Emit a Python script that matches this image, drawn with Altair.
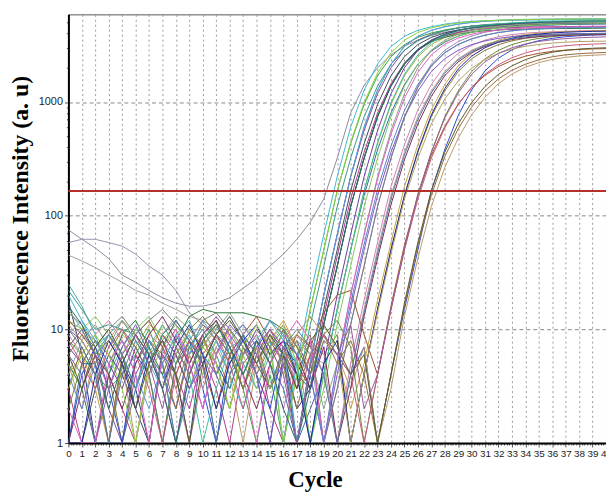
import altair as alt
import pandas as pd

cycles = list(range(41))

curve_01 = [75,62,52,42,30,26,22,19,17,16,16,17,19,23,28,36,46,62,88,140,320,800,1400,2000,2600,3100,3500,3850,4100,4300,4450,4550,4650,4720,4780,4820,4850,4880,4900,4920,4940]
curve_02 = [58,62,62,58,54,46,36,30,22,14,11,9,7,8,5,9,7,3,6,1,3,11,36,120,320,740,1380,2150,2850,3400,3800,4100,4320,4480,4600,4690,4760,4810,4850,4880,4900]
curve_03 = [45,40,35,30,26,22,20,17,15,13,12,10,9,11,8,6,7,9,6,5,1,4,15,50,150,360,740,1250,1850,2400,2850,3200,3450,3630,3760,3850,3910,3950,3980,4000,4020]
curve_04 = [25,16,9,4,7,10,8,5,9,12,6,4,8,5,3,6,9,1,5,20,68,220,600,1270,2150,3080,3780,4270,4590,4840,5010,5140,5230,5290,5330,5350,5370,5380,5390,5400,5400]
curve_05 = [18,6,1,1,5,3,1,6,4,1,8,5,3,7,4,1,6,2,3,11,36,120,320,740,1380,2150,2850,3400,3800,4100,4320,4480,4600,4690,4760,4810,4850,4880,4900,4920,4930]
curve_06 = [10,8,5,2,1,4,7,3,1,5,9,4,2,6,8,3,5,1,5,20,68,220,560,1180,2000,2850,3500,3950,4250,4480,4640,4760,4840,4900,4940,4960,4980,4990,5000,5000,5010]
curve_07 = [1,5,5,1,1,3,6,4,2,7,5,1,4,6,9,5,3,1,2,4,15,50,150,380,800,1420,2150,2800,3350,3800,4100,4330,4500,4600,4680,4730,4770,4800,4820,4840,4850]
curve_08 = [8,6,4,3,4,6,10,5,1,4,8,12,6,3,1,4,1,4,15,50,165,430,950,1700,2500,3200,3700,4050,4300,4500,4650,4750,4820,4870,4900,4930,4950,4970,4980,4990,5000]
curve_09 = [12,10,8,5,9,7,11,9,6,3,7,5,2,6,10,7,4,8,1,4,15,50,165,430,950,1700,2500,3200,3700,4050,4300,4500,4650,4750,4820,4870,4900,4930,4950,4970,4980]
curve_10 = [3,1,1,4,2,1,5,8,4,2,6,3,1,5,7,2,1,6,3,13,44,140,360,800,1450,2200,2900,3450,3850,4100,4280,4400,4480,4530,4560,4580,4600,4610,4620,4630,4640]
curve_11 = [20,12,7,9,12,8,5,3,6,9,5,8,4,2,5,8,1,5,20,68,220,600,1270,2150,3080,3780,4270,4590,4840,5010,5120,5190,5230,5260,5280,5290,5300,5310,5320,5320,5330]
curve_12 = [5,3,1,4,9,12,7,4,8,13,15,14,14,14,13,12,10,4,3,11,36,120,320,740,1380,2150,2850,3400,3700,3950,4120,4230,4300,4350,4380,4400,4420,4430,4440,4450,4460]
curve_13 = [6,9,7,4,1,5,8,6,3,7,11,8,5,9,6,3,7,4,8,6,9,1,4,15,50,150,360,740,1250,1850,2400,2850,3200,3450,3630,3760,3850,3910,3950,3980,4000]
curve_14 = [1,4,7,3,1,6,4,1,5,8,3,1,6,9,4,2,7,5,3,8,6,4,7,1,4,15,50,165,380,760,1280,1880,2430,2880,3220,3460,3630,3750,3830,3880,3910]
curve_15 = [9,6,9,12,8,5,9,7,3,1,4,7,10,6,9,5,2,6,8,4,1,5,18,58,180,420,850,1420,2080,2680,3150,3500,3750,3920,4030,4100,4150,4190,4220,4240,4250]
curve_16 = [15,10,13,9,6,10,13,8,11,7,4,8,10,6,3,7,11,5,1,3,11,36,120,320,740,1380,2150,2850,3400,3800,4100,4320,4480,4600,4690,4760,4810,4850,4880,4900,4920]
curve_17 = [1,1,3,6,4,2,1,7,12,8,5,9,13,8,5,3,6,1,4,15,50,165,430,950,1700,2500,3200,3700,4050,4300,4500,4650,4750,4820,4870,4900,4930,4950,4970,4980,4990]
curve_18 = [4,6,3,1,5,9,6,11,7,4,8,6,10,7,4,8,12,7,5,9,6,2,5,18,58,180,420,850,1420,2080,2680,3150,3500,3750,3920,4030,4100,4150,4190,4220,4240]
curve_19 = [7,5,8,5,3,7,4,9,6,3,5,9,6,3,7,10,6,4,1,5,20,68,220,560,1180,2000,2850,3500,3950,4250,4480,4640,4760,4840,4900,4940,4960,4980,4990,5000,5000]
curve_20 = [22,15,10,11,10,9,6,8,5,7,10,6,3,7,5,8,6,3,11,36,120,320,740,1380,2150,2850,3450,3900,4230,4480,4660,4790,4880,4940,4980,5010,5030,5040,5050,5060,5070]
curve_21 = [3,7,4,1,6,3,8,5,2,6,9,4,7,3,6,9,5,2,6,9,5,8,4,1,4,16,55,150,330,580,900,1250,1600,1900,2150,2350,2500,2600,2660,2700,2730]
curve_22 = [5,2,6,9,5,1,4,7,10,6,3,7,4,1,5,8,11,7,4,8,6,3,7,1,3,13,42,120,265,480,770,1100,1450,1760,2020,2220,2370,2470,2540,2580,2610]
curve_23 = [12,9,6,8,5,9,12,7,4,8,5,2,6,9,13,8,5,9,7,14,20,22,9,4,16,55,150,340,610,960,1340,1720,2050,2320,2530,2680,2790,2860,2900,2930,2950]
curve_24 = [2,5,8,6,10,7,4,1,5,10,13,9,6,3,8,5,10,7,4,9,12,7,1,4,15,50,150,360,740,1250,1850,2400,2850,3200,3450,3630,3760,3850,3910,3950,3980]
curve_25 = [6,4,1,3,7,11,6,3,9,5,2,6,11,8,4,1,5,8,4,1,4,15,50,150,360,740,1250,1850,2400,2850,3200,3450,3630,3760,3850,3910,3950,3980,4000,4010,4020]
curve_26 = [9,12,8,5,8,4,2,5,9,6,12,8,5,9,6,10,7,1,5,20,68,220,600,1270,2150,3080,3780,4270,4590,4840,5010,5120,5190,5230,5260,5280,5290,5300,5310,5310,5320]
curve_27 = [4,8,11,7,12,8,5,9,13,10,7,10,14,9,6,9,5,8,6,2,5,20,68,220,560,1180,2000,2850,3500,3950,4250,4480,4640,4760,4840,4900,4940,4960,4980,4990,5000]
curve_28 = [1,3,6,4,2,5,9,13,8,5,9,12,7,4,2,5,8,6,3,7,1,3,13,42,125,310,640,1120,1700,2250,2720,3080,3350,3540,3670,3760,3820,3860,3890,3910,3920]
curve_29 = [7,10,6,9,6,3,7,11,7,4,1,3,7,4,8,12,8,5,1,4,15,50,165,440,980,1760,2600,3330,3860,4230,4500,4700,4850,4960,5040,5100,5140,5170,5190,5200,5210]
curve_30 = [8,5,3,7,10,6,3,1,4,8,6,9,5,2,6,10,7,3,6,9,6,4,1,4,15,50,140,320,590,950,1350,1760,2130,2450,2700,2890,3030,3130,3190,3230,3260]
curve_31 = [1,1,4,8,5,2,6,3,7,11,6,2,5,8,11,6,8,4,1,5,8,1,4,15,50,150,370,770,1310,1950,2530,3000,3370,3640,3830,3960,4050,4110,4150,4180,4200]
curve_32 = [14,11,7,10,13,9,12,15,11,8,12,14,10,7,4,7,10,6,9,1,3,11,36,120,320,730,1340,2060,2700,3200,3580,3870,4080,4240,4360,4440,4500,4540,4570,4590,4600]
curve_33 = [3,6,9,6,3,1,5,9,7,4,8,5,2,7,11,7,1,4,15,50,165,440,990,1800,2700,3500,4080,4480,4760,4960,5090,5180,5240,5280,5310,5330,5340,5350,5360,5360,5370]
curve_34 = [10,7,4,1,4,8,5,9,12,8,5,1,4,9,6,3,7,10,7,4,1,4,14,46,140,340,700,1200,1790,2340,2790,3150,3410,3600,3740,3840,3900,3940,3970,3990,4000]
curve_35 = [6,3,7,10,6,2,5,8,4,1,5,9,12,8,5,9,6,3,8,11,7,4,6,1,4,17,58,165,360,640,990,1370,1750,2080,2360,2580,2740,2850,2920,2970,3000]
curve_36 = [2,1,1,5,8,4,1,6,10,5,2,6,9,4,1,5,8,12,8,1,5,20,68,210,520,1080,1820,2600,3220,3650,3950,4160,4300,4400,4470,4520,4550,4570,4590,4600,4600]
curve_37 = [11,8,5,8,12,9,6,3,6,10,7,11,8,4,7,3,6,9,13,9,6,1,4,14,46,140,320,640,1060,1530,1980,2370,2680,2920,3090,3210,3300,3360,3400,3420,3430]
curve_38 = [4,2,5,9,6,3,8,5,1,3,6,4,8,11,7,12,9,6,4,1,5,17,56,170,410,840,1430,2100,2720,3220,3600,3880,4080,4230,4330,4400,4450,4490,4510,4530,4540]
curve_39 = [16,11,6,2,5,9,6,3,1,4,8,11,7,4,8,5,2,1,3,11,36,120,320,750,1400,2190,2920,3500,3930,4250,4490,4660,4790,4890,4960,5020,5070,5100,5130,5150,5160]
curve_40 = [7,10,6,3,6,9,5,2,7,4,9,13,9,6,10,7,4,1,5,9,6,11,2,4,15,52,155,360,720,1200,1750,2260,2680,3000,3240,3410,3530,3610,3670,3710,3740]

curve_values = [curve_01, curve_02, curve_03, curve_04, curve_05, curve_06, curve_07, curve_08,
                curve_09, curve_10, curve_11, curve_12, curve_13, curve_14, curve_15, curve_16,
                curve_17, curve_18, curve_19, curve_20, curve_21, curve_22, curve_23, curve_24,
                curve_25, curve_26, curve_27, curve_28, curve_29, curve_30, curve_31, curve_32,
                curve_33, curve_34, curve_35, curve_36, curve_37, curve_38, curve_39, curve_40]
curve_names = ["well %02d" % (i + 1) for i in range(len(curve_values))]
curve_colors = ["#8f8aa0", "#9b8fb0", "#a89a9a", "#4aa8a8", "#2a3a7a", "#8a4a9a", "#3a6aa8", "#3aa04a",
                "#a0b040", "#b03a8a", "#40b8d0", "#2a7a3a", "#8a7a3a", "#2a4ad0", "#d080b0", "#80c860",
                "#3a4a5a", "#c8a040", "#6a3aa0", "#3a9a8a", "#9a6a3a", "#b89a6a", "#a0502a", "#6a8a3a",
                "#7a5ac8", "#5aa0e0", "#8aa08a", "#7a2a5a", "#40c0a0", "#c85a7a", "#1a2a9a", "#7a7a7a",
                "#90d040", "#5a7a9a", "#5a5a2a", "#e060c0", "#b0a060", "#6080d0", "#2a6a6a", "#9a5a9a"]

threshold_value = [165]

x_tick_values = [round(i * 0.2, 1) for i in range(201)]
y_tick_values = [1, 2, 3, 4, 5, 6, 7, 8, 9,
                 10, 20, 30, 40, 50, 60, 70, 80, 90,
                 100, 200, 300, 400, 500, 600, 700, 800, 900,
                 1000, 2000, 3000, 4000, 5000]

rows = []
for name, vals in zip(curve_names, curve_values):
    assert len(vals) == len(cycles), name
    rows += [{"curve": name, "cycle": c, "value": v} for c, v in zip(cycles, vals)]
df = pd.DataFrame(rows)
thr = pd.DataFrame({"value": threshold_value})

INT = "abs(datum.value - round(datum.value)) < 0.01"
YMAJ = "indexof([1, 10, 100, 1000], datum.value) >= 0"
YGRID = "indexof([10, 100, 1000], datum.value) >= 0"

x_scale = alt.Scale(domain=[0, 40], nice=False, zero=False)
y_scale = alt.Scale(type="log", domain=[1, 5900], nice=False)

x_axis = alt.Axis(
    values=x_tick_values,
    labelExpr=f"{INT} ? format(datum.value, 'd') : ''",
    labelOverlap=False, labelFlush=False, labelBound=False,
    labelFont="Liberation Sans", labelFontSize=10, labelColor="#222", labelPadding=2,
    tickSize={"condition": {"test": INT, "value": 4}, "value": 2},
    tickColor="#555", tickWidth=1,
    grid=True, gridColor="#999", gridDash=[2, 3], gridWidth=1,
    gridOpacity={"condition": {"test": INT, "value": 1}, "value": 0},
    domainColor="#000", domainWidth=2,
    title="Cycle", titleFont="Liberation Serif", titleFontSize=23, titleFontWeight="bold",
    titleColor="#000", titleX=249, titleY=44, titleAlign="center", titleBaseline="alphabetic",
)

y_axis = alt.Axis(
    values=y_tick_values,
    labelExpr=f"{YMAJ} ? format(datum.value, 'd') : ''",
    labelOverlap=False,
    labelFont="Liberation Sans", labelFontSize=11, labelColor="#222", labelPadding=2,
    tickSize={"condition": {"test": YMAJ, "value": 4}, "value": 2},
    tickColor="#555", tickWidth=1,
    grid=True, gridColor="#888", gridDash=[4, 3], gridWidth=1,
    gridOpacity={"condition": {"test": YGRID, "value": 1}, "value": 0},
    domainColor="#000", domainWidth=2,
    title="Fluorescence Intensity (a. u)", titleFont="Liberation Serif", titleFontSize=24,
    titleFontWeight="bold", titleColor="#000", titleAngle=270,
    titleX=-48, titleY=206, titleAlign="center", titleBaseline="middle",
)

lines = alt.Chart(df).mark_line(strokeWidth=1, clip=True).encode(
    x=alt.X("cycle:Q", scale=x_scale, axis=x_axis),
    y=alt.Y("value:Q", scale=y_scale, axis=y_axis),
    color=alt.Color("curve:N", scale=alt.Scale(domain=curve_names, range=curve_colors), legend=None),
    detail="curve:N",
)

threshold = alt.Chart(thr).mark_rule(color="#b5302a", strokeWidth=2).encode(
    y=alt.Y("value:Q", scale=y_scale),
)

chart = alt.layer(lines, threshold).properties(
    width=543, height=433,
    padding={"left": 61, "top": 4, "right": 0, "bottom": 48},
    autosize="none",
    background="white",
).configure_view(stroke="#555", strokeWidth=1)

chart.save("out.html", embed_options={"renderer": "svg", "actions": False})
